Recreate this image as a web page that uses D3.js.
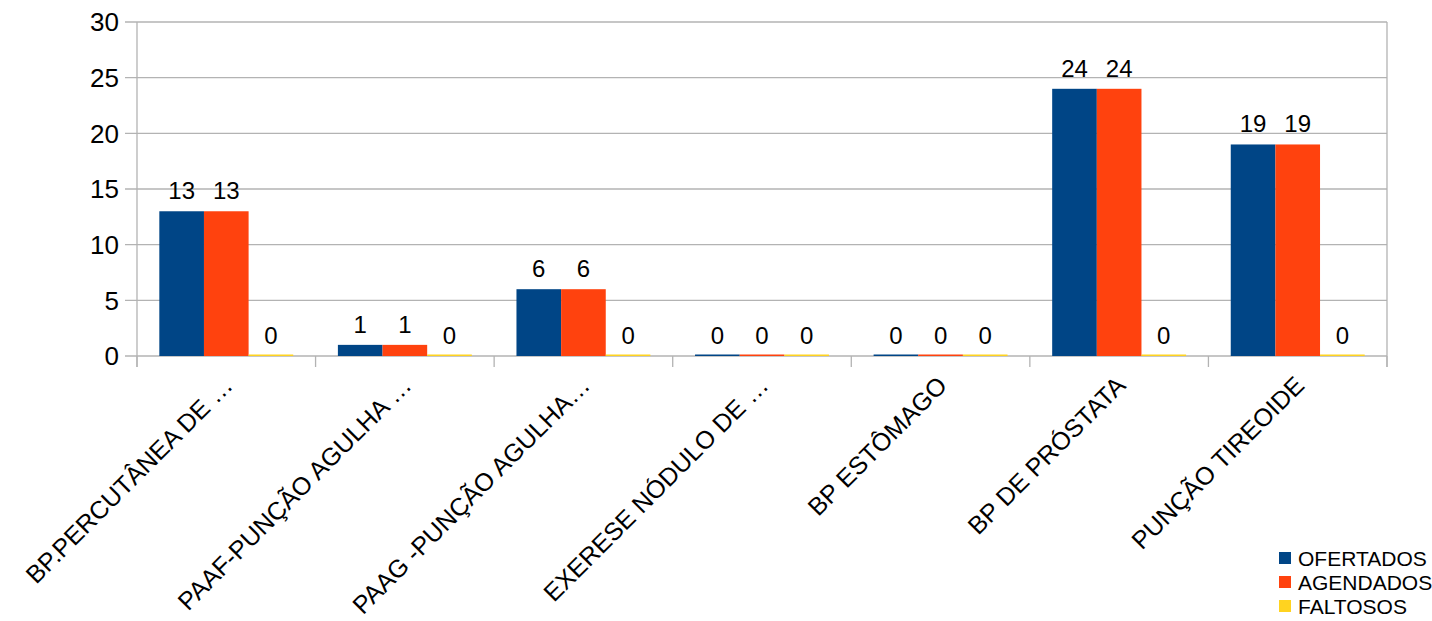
<!DOCTYPE html>
<html>
<head>
<meta charset="utf-8">
<script src="https://cdn.jsdelivr.net/npm/d3@7"></script>
<style>
  html, body { margin: 0; padding: 0; background: #ffffff; }
  svg { display: block; font-family: "Liberation Sans", Arial, sans-serif; }
</style>
</head>
<body>
<svg id="chart" width="1432" height="621"></svg>
<script>
const categories = [
  "BP.PERCUTÂNEA DE …",
  "PAAF-PUNÇÃO AGULHA …",
  "PAAG -PUNÇÃO AGULHA…",
  "EXERESE NÓDULO DE …",
  "BP ESTÔMAGO",
  "BP DE PRÓSTATA",
  "PUNÇÃO TIREOIDE"
];
const seriesNames = ["OFERTADOS", "AGENDADOS", "FALTOSOS"];
const ofertados = [13, 1, 6, 0, 0, 24, 19];
const agendados = [13, 1, 6, 0, 0, 24, 19];
const faltosos  = [0, 0, 0, 0, 0, 0, 0];
const seriesColors = ["#004586", "#ff420e", "#ffd320"];
const yTicks = [0, 5, 10, 15, 20, 25, 30];

const seriesValues = [ofertados, agendados, faltosos];

const svg = d3.select("#chart");
const margin = { left: 137, right: 45, top: 22, bottom: 265 };
const W = 1432, H = 621;
const plotW = W - margin.left - margin.right;
const plotH = H - margin.top - margin.bottom;
const gridColor = "#b3b3b3";

const g = svg.append("g").attr("transform", `translate(${margin.left},${margin.top})`);

const x = d3.scaleBand().domain(categories).range([0, plotW]).paddingInner(0).paddingOuter(0);
const xs = d3.scaleBand().domain(seriesNames).range([0, x.bandwidth()]).paddingInner(0).paddingOuter(0.5);
const y = d3.scaleLinear().domain([0, 30]).range([plotH, 0]);

// gridlines + y ticks
g.selectAll("line.grid").data(yTicks).enter().append("line")
  .attr("class", "grid")
  .attr("x1", -12).attr("x2", plotW)
  .attr("y1", d => y(d)).attr("y2", d => y(d))
  .attr("stroke", gridColor).attr("stroke-width", 1.3);

g.selectAll("text.ytick").data(yTicks).enter().append("text")
  .attr("class", "ytick")
  .attr("x", -18).attr("y", d => y(d))
  .attr("dy", "0.36em")
  .attr("text-anchor", "end")
  .attr("font-size", 26)
  .attr("fill", "#000")
  .text(d => d);

// left axis line and right border
g.append("line").attr("x1", 0).attr("x2", 0).attr("y1", 0).attr("y2", plotH + 11)
  .attr("stroke", gridColor).attr("stroke-width", 1.3);
g.append("line").attr("x1", plotW).attr("x2", plotW).attr("y1", 0).attr("y2", plotH + 11)
  .attr("stroke", gridColor).attr("stroke-width", 1.3);

// x ticks at category boundaries
const boundaries = categories.map(c => x(c)).concat([plotW]);
g.selectAll("line.xtick").data(boundaries).enter().append("line")
  .attr("class", "xtick")
  .attr("x1", d => d).attr("x2", d => d)
  .attr("y1", plotH).attr("y2", plotH + 11)
  .attr("stroke", gridColor).attr("stroke-width", 1.3);

// bars
const groups = g.selectAll("g.cat").data(categories).enter().append("g")
  .attr("class", "cat")
  .attr("transform", d => `translate(${x(d)},0)`);

groups.each(function(cat, ci) {
  const grp = d3.select(this);
  seriesNames.forEach((s, si) => {
    const v = seriesValues[si][ci];
    const h = Math.max(plotH - y(v), 1.5);
    grp.append("rect")
      .attr("x", xs(s))
      .attr("y", plotH - h)
      .attr("width", xs.bandwidth())
      .attr("height", h)
      .attr("fill", seriesColors[si]);
    grp.append("text")
      .attr("x", xs(s) + xs.bandwidth() / 2)
      .attr("y", y(v) - 12)
      .attr("text-anchor", "middle")
      .attr("font-size", 24)
      .attr("fill", "#000")
      .text(v);
  });
});

// category labels
g.selectAll("text.xlab").data(categories).enter().append("text")
  .attr("class", "xlab")
  .attr("transform", d => `translate(${x(d) + x.bandwidth() / 2 + 8},${plotH + 31}) rotate(-45)`)
  .attr("text-anchor", "end")
  .attr("font-size", 25)
  .attr("fill", "#000")
  .text(d => d);

// legend
const legend = svg.append("g").attr("transform", "translate(1279,546)");
seriesNames.forEach((s, i) => {
  legend.append("rect")
    .attr("x", 0).attr("y", i * 24 + 6)
    .attr("width", 12).attr("height", 12)
    .attr("fill", seriesColors[i]);
  legend.append("text")
    .attr("x", 19).attr("y", i * 24 + 12)
    .attr("dy", "0.36em")
    .attr("font-size", 21)
    .attr("fill", "#000")
    .text(s);
});
</script>
</body>
</html>
